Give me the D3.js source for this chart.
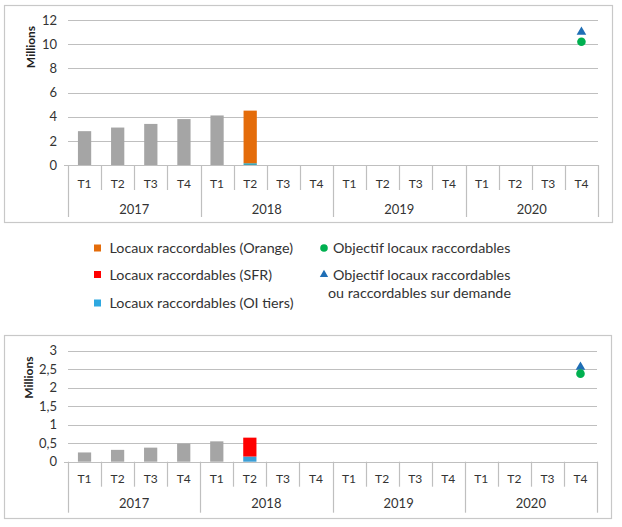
<!DOCTYPE html>
<html>
<head>
<meta charset="utf-8">
<script src="https://cdn.jsdelivr.net/npm/d3@7"></script>
<style>
  html, body { margin: 0; padding: 0; background: #fff; }
  svg { display: block; font-family: Lato, "Open Sans", sans-serif; }
</style>
</head>
<body>
<svg id="c" width="622" height="527"></svg>
<script>
// ---- data ----
const years = ["2017", "2018", "2019", "2020"];
const quarters = ["T1", "T2", "T3", "T4"];

// Chart 1 (millions)
const ticks1 = [0, 2, 4, 6, 8, 10, 12];
const total1 = [2.8, 3.1, 3.4, 3.8, 4.1, null, null, null, null, null, null, null, null, null, null, null];
const orange1 = [null, null, null, null, null, 4.35, null, null, null, null, null, null, null, null, null, null];
const oiTiers1 = [null, null, null, null, null, 0.15, null, null, null, null, null, null, null, null, null, null];
const objRacc1 = [null, null, null, null, null, null, null, null, null, null, null, null, null, null, null, 10.2];
const objDemande1 = [null, null, null, null, null, null, null, null, null, null, null, null, null, null, null, 11];

// Chart 2 (millions)
const ticks2 = [0, 0.5, 1, 1.5, 2, 2.5, 3];
const tickLabels2 = ["0", "0,5", "1", "1,5", "2", "2,5", "3"];
const total2 = [0.25, 0.32, 0.38, 0.49, 0.55, null, null, null, null, null, null, null, null, null, null, null];
const sfr2 = [null, null, null, null, null, 0.51, null, null, null, null, null, null, null, null, null, null];
const oiTiers2 = [null, null, null, null, null, 0.14, null, null, null, null, null, null, null, null, null, null];
const objRacc2 = [null, null, null, null, null, null, null, null, null, null, null, null, null, null, null, 2.38];
const objDemande2 = [null, null, null, null, null, null, null, null, null, null, null, null, null, null, null, 2.56];

const legendItems = [
  { label: ["Locaux raccordables (Orange)"], shape: "square", color: "#E46C0A" },
  { label: ["Locaux raccordables (SFR)"], shape: "square", color: "#FF0000" },
  { label: ["Locaux raccordables (OI tiers)"], shape: "square", color: "#2EA8E0" },
  { label: ["Objectif locaux raccordables"], shape: "circle", color: "#00B050" },
  { label: ["Objectif locaux raccordables", "ou raccordables sur demande"], shape: "triangle", color: "#1F6EB5" }
];

// ---- styles ----
const C = {
  gray: "#A5A5A5", orange: "#E46C0A", red: "#FF0000", blue: "#2EA8E0", blue2: "#3C9FD6",
  green: "#00B050", tri: "#1F6EB5", grid: "#BFBFBF", text: "#333333", border: "#C8C8C8"
};

const cats = [];
years.forEach(y => quarters.forEach(q => cats.push(y + "-" + q)));

const svg = d3.select("#c");

function drawChart(opt) {
  const g = svg.append("g");
  g.append("rect").attr("x", opt.box[0] + 0.5).attr("y", opt.box[1] + 0.5)
    .attr("width", opt.box[2] - opt.box[0]).attr("height", opt.box[3] - opt.box[1])
    .attr("fill", "none").attr("stroke", C.border).attr("stroke-width", 1.2);

  const x = d3.scaleBand().domain(cats).range([opt.left, opt.right]).paddingInner(0.6).paddingOuter(0.3);
  const y = d3.scaleLinear().domain([0, opt.max]).range([opt.bottom, opt.top]);
  const step = x.step();
  const catLeft = i => opt.left + i * step;

  g.append("g").selectAll("line").data(opt.ticks).join("line")
    .attr("x1", d => d === 0 ? opt.left - 4 : opt.left).attr("x2", opt.right)
    .attr("y1", d => Math.round(y(d)) + 0.5).attr("y2", d => Math.round(y(d)) + 0.5)
    .attr("stroke", C.grid).attr("stroke-width", 1.2);

  g.append("g").selectAll("text").data(opt.ticks).join("text")
    .attr("x", opt.left - 11).attr("y", d => y(d)).attr("dy", "0.36em")
    .attr("text-anchor", "end").attr("font-size", 13).attr("fill", C.text)
    .text((d, i) => opt.tickLabels ? opt.tickLabels[i] : d);

  g.append("text")
    .attr("transform", `translate(${opt.titleX},${(opt.top + opt.titleMid)}) rotate(-90)`)
    .attr("text-anchor", "middle").attr("font-size", 12).attr("font-weight", "bold")
    .attr("fill", "#222").text("Millions");

  const seps = d3.range(cats.length + 1);
  g.append("g").selectAll("line").data(seps).join("line")
    .attr("x1", i => Math.round(catLeft(i)) + 0.5).attr("x2", i => Math.round(catLeft(i)) + 0.5)
    .attr("y1", opt.bottom).attr("y2", i => i % 4 === 0 ? opt.bottom + opt.yearTick : opt.bottom + opt.qTick)
    .attr("stroke", C.grid).attr("stroke-width", 1.2);

  g.append("g").selectAll("text").data(cats).join("text")
    .attr("x", d => x(d) + x.bandwidth() / 2).attr("y", opt.bottom + opt.qLabel)
    .attr("text-anchor", "middle").attr("font-size", 12).attr("fill", C.text)
    .text(d => d.split("-")[1]);

  g.append("g").selectAll("text").data(years).join("text")
    .attr("x", (d, i) => catLeft(i * 4 + 2)).attr("y", opt.bottom + opt.yLabel)
    .attr("text-anchor", "middle").attr("font-size", 13).attr("fill", C.text)
    .text(d => d);

  opt.stacks.forEach(s => {
    g.append("g").selectAll("rect").data(cats.map((c, i) => ({ c, i })).filter(d => s.values[d.i] != null)).join("rect")
      .attr("x", d => x(d.c)).attr("width", x.bandwidth())
      .attr("y", d => y((s.base ? s.base[d.i] || 0 : 0) + s.values[d.i]))
      .attr("height", d => y(s.base ? s.base[d.i] || 0 : 0) - y((s.base ? s.base[d.i] || 0 : 0) + s.values[d.i]))
      .attr("fill", s.color);
  });

  const circ = cats.map((c, i) => ({ c, v: opt.circle[i] })).filter(d => d.v != null);
  const tri = cats.map((c, i) => ({ c, v: opt.triangle[i] })).filter(d => d.v != null);
  g.append("g").selectAll("path").data(tri).join("path")
    .attr("d", d3.symbol(d3.symbolTriangle, 40)())
    .attr("transform", d => `translate(${x(d.c) + x.bandwidth() / 2},${y(d.v)})`)
    .attr("fill", C.tri);
  g.append("g").selectAll("circle").data(circ).join("circle")
    .attr("cx", d => x(d.c) + x.bandwidth() / 2).attr("cy", d => y(d.v)).attr("r", 4.3)
    .attr("fill", C.green);
}

drawChart({
  box: [4, 5, 612, 222], left: 68, right: 598, top: 20, bottom: 165, max: 12,
  ticks: ticks1, titleX: 35, titleMid: 27, qTick: 25, yearTick: 52, qLabel: 23, yLabel: 49,
  stacks: [
    { values: total1, color: C.gray },
    { values: oiTiers1, color: "#3AA6B8" },
    { values: orange1, base: oiTiers1, color: C.orange }
  ],
  circle: objRacc1, triangle: objDemande1
});

drawChart({
  box: [4, 335, 611, 518], left: 68, right: 597, top: 350.7, bottom: 461.7, max: 3,
  ticks: ticks2, tickLabels: tickLabels2, titleX: 33, titleMid: 27, qTick: 25, yearTick: 51, qLabel: 21, yLabel: 46,
  stacks: [
    { values: total2, color: C.gray },
    { values: oiTiers2, color: C.blue2 },
    { values: sfr2, base: oiTiers2, color: C.red }
  ],
  circle: objRacc2, triangle: objDemande2
});

// legend
const legend = svg.append("g").attr("font-size", 14.3).attr("fill", C.text);
const legPos = [[97.5, 248], [97.5, 274.5], [97.5, 303], [324, 248], [324, 274.5]];
legendItems.forEach((it, i) => {
  const [lx, ly] = legPos[i];
  const gi = legend.append("g").attr("transform", `translate(${lx},${ly})`);
  if (it.shape === "square") {
    gi.append("rect").attr("x", -3.5).attr("y", -3.5).attr("width", 7).attr("height", 7).attr("fill", it.color);
  } else if (it.shape === "circle") {
    gi.append("circle").attr("r", 3.8).attr("fill", it.color);
  } else {
    gi.append("path").attr("d", d3.symbol(d3.symbolTriangle, 30)()).attr("fill", it.color);
  }
  it.label.forEach((t, j) => {
    gi.append("text").attr("x", j === 0 ? (it.shape === "square" ? 12 : 9) : 4).attr("y", j * 18.5).attr("dy", "0.36em")
      .attr("fill", "#333").text(t);
  });
});
</script>
</body>
</html>
